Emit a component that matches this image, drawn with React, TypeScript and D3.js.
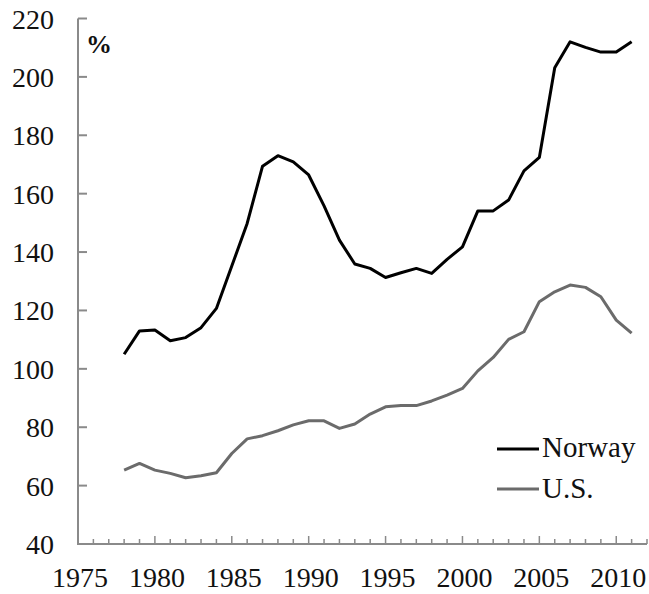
import React from "react";
import * as d3 from "d3";

const years = d3.range(1978, 2012);
const norway = [105, 113, 113.3, 109.6, 110.7, 114.1, 120.7, 135.2, 149.8, 169.4, 173, 170.9, 166.4, 155.8, 144.1, 135.9, 134.4, 131.3, 132.9, 134.4, 132.7, 137.5, 141.8, 154.1, 154.1, 157.8, 167.8, 172.4, 203.1, 212, 210.1, 208.5, 208.5, 212];
const us = [65.3, 67.6, 65.3, 64.2, 62.7, 63.4, 64.4, 71.0, 76.0, 77.1, 78.8, 80.8, 82.2, 82.2, 79.6, 81.1, 84.5, 87.0, 87.4, 87.4, 89.0, 91.0, 93.3, 99.3, 103.9, 110.1, 112.7, 123.0, 126.4, 128.7, 127.9, 124.7, 116.7, 112.2];
const yTicks = [40, 60, 80, 100, 120, 140, 160, 180, 200, 220];
const xTickLabels = [1975, 1980, 1985, 1990, 1995, 2000, 2005, 2010];
const seriesNames = ["Norway", "U.S."];

const txt = { fontFamily: '"Liberation Serif", "Times New Roman", Times, serif' } as React.CSSProperties;

export default function App() {
  const x = d3.scaleLinear().domain([1975, 2012]).range([78, 647]);
  const y = d3.scaleLinear().domain([40, 220]).range([544, 18.5]);
  const line = d3
    .line<[number, number]>()
    .x((d) => x(d[0]))
    .y((d) => y(d[1]));
  const nPts = years.map((yr, i) => [yr, norway[i]] as [number, number]);
  const uPts = years.map((yr, i) => [yr, us[i]] as [number, number]);
  const minor = d3.range(1976, 2013);
  const axisColor = "#8a8a8a";
  const colors = ["#000000", "#6b6b6b"];

  return (
    <svg
      width={649}
      height={594}
      style={{ position: "absolute", left: 0, top: 0, background: "#fff" }}
    >
      <rect x={0} y={0} width={649} height={594} fill="#fff" />
      <line x1={x(1975)} x2={x(1975)} y1={y(220)} y2={y(40)} stroke={axisColor} strokeWidth={2} />
      {yTicks.map((t) => (
        <g key={t}>
          <line x1={x(1975)} x2={x(1975) + 9} y1={y(t)} y2={y(t)} stroke={axisColor} strokeWidth={2} />
          <text x={54} y={y(t) + 10} textAnchor="end" fontSize={28} fill="#111" style={txt}>
            {t}
          </text>
        </g>
      ))}
      <line x1={x(1975) - 1} x2={x(2012)} y1={y(40)} y2={y(40)} stroke={axisColor} strokeWidth={2} />
      {minor.map((t) => (
        <line
          key={t}
          x1={x(t)}
          x2={x(t)}
          y1={y(40)}
          y2={y(40) - (t % 5 === 0 ? 8 : 5)}
          stroke={axisColor}
          strokeWidth={1.5}
        />
      ))}
      {xTickLabels.map((t) => (
        <text key={t} x={x(t) + 2} y={587} textAnchor="middle" fontSize={28} fill="#111" style={txt}>
          {t}
        </text>
      ))}
      <text x={86} y={53} fontSize={26} fontWeight="bold" fill="#111" style={txt}>
        %
      </text>
      <path d={line(uPts) || ""} fill="none" stroke={colors[1]} strokeWidth={3} strokeLinejoin="round" />
      <path d={line(nPts) || ""} fill="none" stroke={colors[0]} strokeWidth={3} strokeLinejoin="round" />
      {seriesNames.map((name, i) => (
        <g key={name}>
          <line x1={497} x2={539} y1={449 + i * 40} y2={449 + i * 40} stroke={colors[i]} strokeWidth={3} />
          <text x={542} y={457 + i * 41} fontSize={29} fill="#111" style={txt}>
            {name}
          </text>
        </g>
      ))}
    </svg>
  );
}
